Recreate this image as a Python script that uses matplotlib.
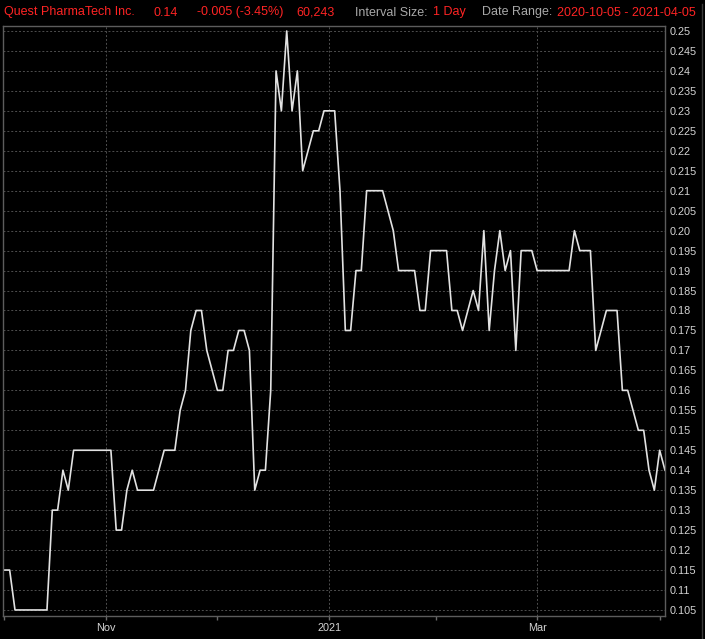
import matplotlib
matplotlib.use("Agg")
import matplotlib.pyplot as plt
import pandas as pd
import numpy as np

# trading days (TSX-V), Canadian holidays removed
holidays = ["2020-10-12", "2020-12-25", "2020-12-28", "2021-01-01", "2021-02-15", "2021-04-02"]
dates = pd.bdate_range("2020-10-05", "2021-04-05", freq="C", holidays=holidays)

close = [
    0.115, 0.115, 0.105, 0.105, 0.105, 0.105, 0.105, 0.105, 0.105, 0.13,
    0.13, 0.14, 0.135, 0.145, 0.145, 0.145, 0.145, 0.145, 0.145, 0.145,
    0.145, 0.125, 0.125, 0.135, 0.14, 0.135, 0.135, 0.135, 0.135, 0.14,
    0.145, 0.145, 0.145, 0.155, 0.16, 0.175, 0.18, 0.18, 0.17, 0.165,
    0.16, 0.16, 0.17, 0.17, 0.175, 0.175, 0.17, 0.135, 0.14, 0.14,
    0.16, 0.24, 0.23, 0.25, 0.23, 0.24, 0.215, 0.22, 0.225, 0.225,
    0.23, 0.23, 0.23, 0.21, 0.175, 0.175, 0.19, 0.19, 0.21, 0.21,
    0.21, 0.21, 0.205, 0.20, 0.19, 0.19, 0.19, 0.19, 0.18, 0.18,
    0.195, 0.195, 0.195, 0.195, 0.18, 0.18, 0.175, 0.18, 0.185, 0.18,
    0.20, 0.175, 0.19, 0.20, 0.19, 0.195, 0.17, 0.195, 0.195, 0.195,
    0.19, 0.19, 0.19, 0.19, 0.19, 0.19, 0.19, 0.20, 0.195, 0.195,
    0.195, 0.17, 0.175, 0.18, 0.18, 0.18, 0.16, 0.16, 0.155, 0.15,
    0.15, 0.14, 0.135, 0.145, 0.14,
]

yticks = np.arange(0.105, 0.2501, 0.005)
major_months = ["Nov", "2021", "Mar"]

bg = "#000000"
red = "#ff2424"
gray = "#a8a8a8"

fig = plt.figure(figsize=(7.05, 6.39), dpi=100, facecolor=bg)
ax = fig.add_axes([3 / 705, 1 - 616 / 639, 662 / 705, 590 / 639])
ax.set_facecolor(bg)

x = np.arange(len(close))
ax.plot(x, close, color="#e2e2e2", lw=1.2)

ax.set_xlim(-0.25, len(close) - 1)
ax.set_ylim(0.10349, 0.25125)

# month ticks at first trading day of each month
month_start = [i for i in range(len(dates)) if i == 0 or dates[i].month != dates[i - 1].month]
major = []
minor = []
labels = []
for i in month_start:
    d = dates[i]
    if d.month == 1:
        lab = str(d.year)
    else:
        lab = d.strftime("%b")
    if lab in major_months:
        major.append(i)
        labels.append(lab)
    else:
        minor.append(i)
ax.set_xticks(major)
ax.set_xticklabels(labels)
ax.set_xticks(minor, minor=True)

ax.yaxis.tick_right()
ax.set_yticks(yticks)
ylabels = []
for v in yticks:
    s = "%.3f" % v
    if s.endswith("0"):
        s = s[:-1]
    ylabels.append(s)
ax.set_yticklabels(ylabels)

ax.grid(True, which="major", color="#4e4e4e", ls=(0, (2, 2)), lw=0.7)
for sp in ax.spines.values():
    sp.set_color("#5c5c5c")
    sp.set_linewidth(1)

ax.tick_params(axis="x", which="both", colors="#6a6a6a", length=3, width=1,
               labelcolor="#d4d4d4", labelsize=7.8, pad=2)
ax.tick_params(axis="y", which="both", length=0, labelcolor="#d4d4d4", labelsize=7.8, pad=3)
for t in ax.get_xticklabels() + ax.get_yticklabels():
    t.set_family(["Liberation Sans", "DejaVu Sans"])

# outer frame line at right
fig.add_artist(plt.Line2D([701.5 / 705, 701.5 / 705], [0, 1 - 4 / 639], color="#3a3a3a", lw=1))

# header
hdr = [
    (4, "Quest PharmaTech Inc.", red),
    (153, "0.14", red),
    (197, "-0.005 (-3.45%)", red),
    (296, "60,243", red),
    (355, "Interval Size:", gray),
    (433, "1 Day", red),
    (482, "Date Range:", gray),
    (557, "2020-10-05 - 2021-04-05", red),
]
for hx, txt, col in hdr:
    fig.text(hx / 705, 1 - 15.5 / 639, txt, color=col, fontsize=9, va="baseline", ha="left",
             family=["Liberation Sans", "DejaVu Sans"])

fig.savefig("out.png", dpi=100, facecolor=bg)
